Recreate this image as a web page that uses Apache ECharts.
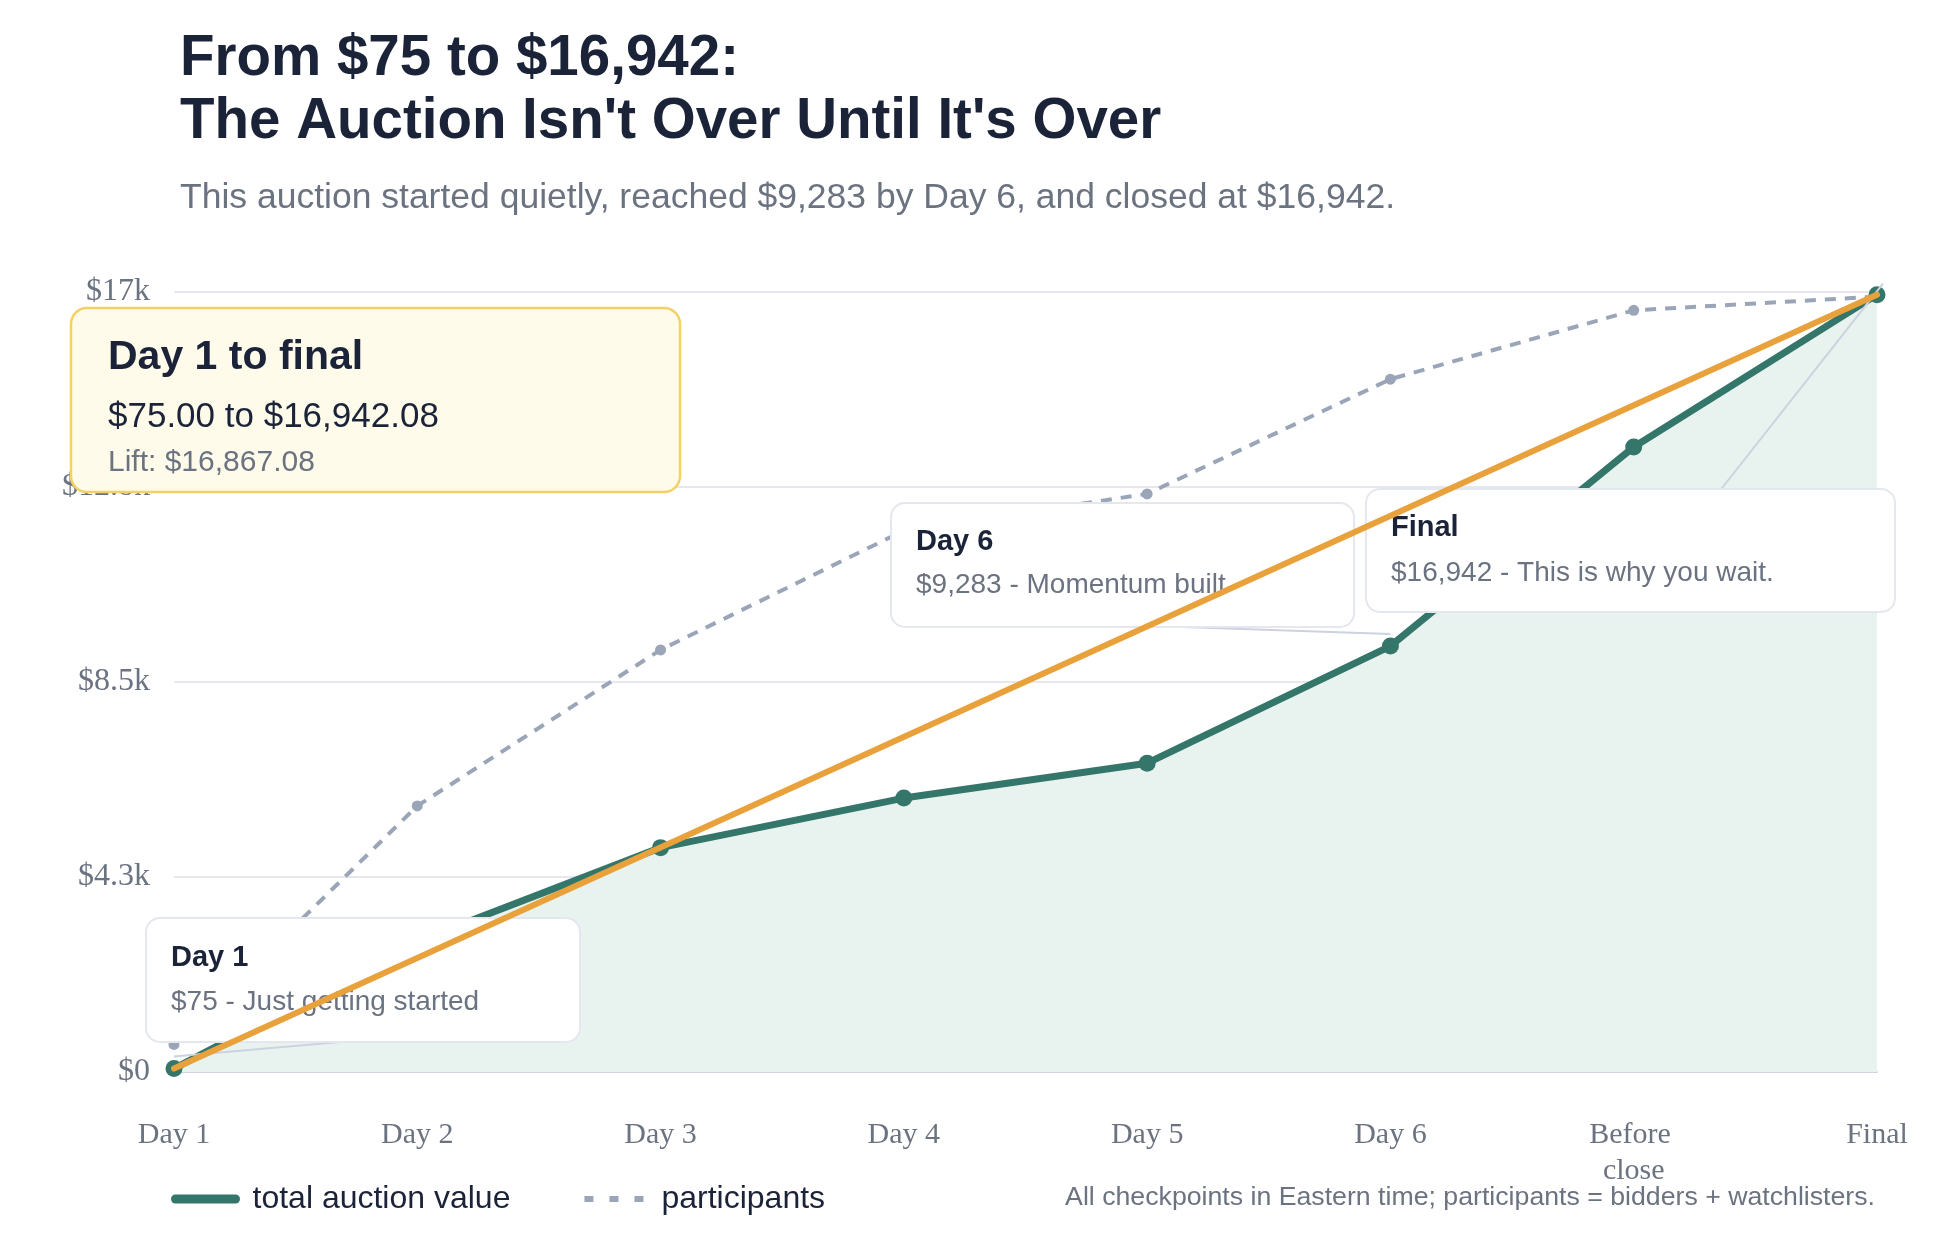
<!DOCTYPE html>
<html>
<head>
<meta charset="utf-8">
<script src="https://cdn.jsdelivr.net/npm/echarts@6/dist/echarts.min.js"></script>
<style>
html,body{margin:0;padding:0;background:#ffffff;}
#chart{width:1946px;height:1252px;}
</style>
</head>
<body>
<div id="chart"></div>
<script>
// ---- data ----
const categories = ['Day 1', 'Day 2', 'Day 3', 'Day 4', 'Day 5', 'Day 6', 'Before close', 'Final'];
const totalValue = [75, 2850, 4890, 5970, 6730, 9283, 13620, 16942.08];
const participants = [6, 58, 92, 118, 126, 151, 166, 169];
const trendLine = [75, null, null, null, null, null, null, 16942.08];
const yTicks = [0, 4250, 8500, 12750, 17000];
const yTickLabels = ['$0', '$4.3k', '$8.5k', '$12.8k', '$17k'];
const titleText = 'From $75 to $16,942:\nThe Auction Isn\'t Over Until It\'s Over';
const subtitleText = 'This auction started quietly, reached $9,283 by Day 6, and closed at $16,942.';
const footnoteText = 'All checkpoints in Eastern time; participants = bidders + watchlisters.';
const summary = { title: 'Day 1 to final', range: '$75.00 to $16,942.08', lift: 'Lift: $16,867.08' };
const callouts = [
  { idx: 0, title: 'Day 1', text: '$75 - Just getting started' },
  { idx: 5, title: 'Day 6', text: '$9,283 - Momentum built' },
  { idx: 7, title: 'Final', text: '$16,942 - This is why you wait.' }
];

// ---- styles ----
const SANS = '"Liberation Sans", Arial, Helvetica, sans-serif';
const SERIF = '"Liberation Serif", "Times New Roman", serif';
const GREEN = '#35766b';
const ORANGE = '#e9a23b';
const DASH = '#9aa5b8';
const DARK = '#1b2338';
const GRAY = '#6b7280';

const chart = echarts.init(document.getElementById('chart'), null, { renderer: 'canvas' });

const option = {
  animation: false,
  backgroundColor: '#ffffff',
  title: [
    { text: titleText, left: 175, top: 23,
      textStyle: { fontFamily: SANS, fontSize: 56.5, fontWeight: 'bold', color: DARK, lineHeight: 63 } },
    { text: subtitleText, left: 175, top: 173,
      textStyle: { fontFamily: SANS, fontSize: 35.5, fontWeight: 'normal', color: GRAY, lineHeight: 40 } }
  ],
  grid: { left: 174, right: 69, top: 292, bottom: 180, containLabel: false },
  legend: {
    left: 166, top: 1178,
    itemWidth: 60, itemHeight: 16, itemGap: 71,
    textStyle: { fontFamily: SANS, fontSize: 32, color: DARK, padding: [0, 0, 0, 12] },
    itemStyle: { opacity: 0 },
    data: [
      { name: 'total auction value', lineStyle: { width: 9, cap: 'round', color: GREEN } },
      { name: 'participants', lineStyle: { width: 6, type: [9, 16], color: DASH } }
    ]
  },
  xAxis: {
    type: 'category', data: categories, boundaryGap: false,
    axisLine: { show: true, lineStyle: { color: '#cfd4de', width: 2 } },
    axisTick: { show: false },
    axisLabel: { fontFamily: SERIF, fontSize: 30, color: GRAY, margin: 45, lineHeight: 36,
      width: 100, overflow: 'break', interval: 0 }
  },
  yAxis: [
    { type: 'value', min: yTicks[0], max: yTicks[yTicks.length - 1], interval: yTicks[1] - yTicks[0],
      axisLine: { show: false }, axisTick: { show: false },
      splitLine: { lineStyle: { color: '#e6e8ee', width: 2 } },
      axisLabel: { fontFamily: SERIF, fontSize: 32, color: GRAY, margin: 24,
        formatter: function (v) { const i = yTicks.indexOf(v); return i >= 0 ? yTickLabels[i] : ''; } } },
    { type: 'value', min: 0, max: 170, show: false, splitLine: { show: false } }
  ],
  series: [
    { name: 'participants', type: 'line', yAxisIndex: 1, data: participants, z: 1,
      symbol: 'circle', symbolSize: 11, showSymbol: true,
      itemStyle: { color: DASH },
      lineStyle: { color: DASH, width: 4, type: [11, 9] } },
    { name: 'total auction value', type: 'line', yAxisIndex: 0, data: totalValue, z: 2,
      symbol: 'circle', symbolSize: 17,
      itemStyle: { color: GREEN },
      lineStyle: { color: GREEN, width: 7, cap: 'round', join: 'round' },
      areaStyle: { color: '#e8f3ef', opacity: 1 } },
    { name: 'trend', type: 'line', yAxisIndex: 0, data: trendLine, connectNulls: true, z: 5,
      symbol: 'none', lineStyle: { color: ORANGE, width: 6, cap: 'round' } }
  ]
};
chart.setOption(option);

// ---- annotation boxes (layout) ----
const boxLayout = [
  { x: 146, y: 918, w: 434, h: 124, pad: 25, titleDy: 40, textDy: 84, end: 'bottom' },
  { x: 891, y: 503, w: 463, h: 124, pad: 25, titleDy: 39, textDy: 82, end: 'bottom' },
  { x: 1366, y: 489, w: 529, h: 123, pad: 25, titleDy: 39, textDy: 84, end: 'inside' }
];
const graphics = [];
callouts.forEach(function (c, k) {
  const b = boxLayout[k];
  const p = chart.convertToPixel({ xAxisIndex: 0, yAxisIndex: 0 }, [c.idx, totalValue[c.idx]]);
  let sx = p[0], sy = p[1] - 12, ex, ey;
  if (b.end === 'bottom') { ex = b.x + b.w / 2; ey = b.y + b.h - 2; }
  else { sx = p[0] + 6; sy = p[1] - 11; ex = b.x + b.w * 0.58; ey = b.y + b.h * 0.5; }
  graphics.push({ type: 'line', z: 3, shape: { x1: sx, y1: sy, x2: ex, y2: ey },
    style: { stroke: '#cdd2de', lineWidth: 2 } });
  graphics.push({ type: 'rect', z: 4, shape: { x: b.x, y: b.y, width: b.w, height: b.h, r: 14 },
    style: { fill: '#ffffff', stroke: '#e4e7ee', lineWidth: 2 } });
  graphics.push({ type: 'text', z: 4, x: b.x + b.pad, y: b.y + b.titleDy,
    style: { text: c.title, font: 'bold 29px ' + SANS, fill: DARK, verticalAlign: 'middle' } });
  graphics.push({ type: 'text', z: 4, x: b.x + b.pad, y: b.y + b.textDy,
    style: { text: c.text, font: '28px ' + SANS, fill: GRAY, verticalAlign: 'middle' } });
});
// summary box
graphics.push({ type: 'rect', z: 10, shape: { x: 71, y: 308, width: 609, height: 184, r: 16 },
  style: { fill: '#fffbeb', stroke: '#f5d165', lineWidth: 2.5 } });
graphics.push({ type: 'text', z: 10, x: 108, y: 358,
  style: { text: summary.title, font: 'bold 41px ' + SANS, fill: DARK, verticalAlign: 'middle' } });
graphics.push({ type: 'text', z: 10, x: 108, y: 417,
  style: { text: summary.range, font: '35px ' + SANS, fill: DARK, verticalAlign: 'middle' } });
graphics.push({ type: 'text', z: 10, x: 108, y: 463,
  style: { text: summary.lift, font: '30px ' + SANS, fill: GRAY, verticalAlign: 'middle' } });
// footnote
graphics.push({ type: 'text', z: 10, x: 1875, y: 1198,
  style: { text: footnoteText, font: '26.7px ' + SANS, fill: GRAY, align: 'right', verticalAlign: 'middle' } });

chart.setOption({ graphic: graphics });
</script>
</body>
</html>
